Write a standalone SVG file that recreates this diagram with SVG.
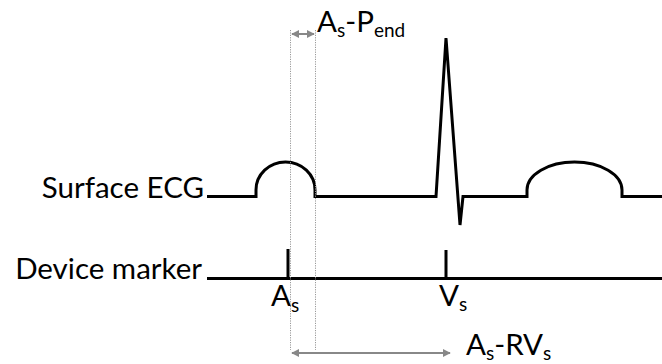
<svg xmlns="http://www.w3.org/2000/svg" width="662" height="364" viewBox="0 0 662 364">
<style>
.trace{fill:none;stroke:#000;stroke-width:3;stroke-linejoin:miter}
.lbl{font-family:"Lato","Open Sans",sans-serif;font-size:29.5px;fill:#000}
.sub{font-size:19px}
.guide{stroke:#999;stroke-width:1;stroke-dasharray:1.2,1.2;fill:none}
.dim{stroke:#888;stroke-width:2;fill:none}
</style>
<defs>
<marker id="ah" viewBox="0 0 10 10" refX="9" refY="5" markerWidth="4" markerHeight="4" orient="auto-start-reverse">
<path d="M0,0 L10,5 L0,10 z" fill="#888"/>
</marker>
</defs>
<g id="ecg">
<path class="trace" d="M207,196.5 H256 V190 A29.5,28 0 0 1 315,190 V196.5 H436 L446,38 L460,225 L463,196.5 H527 V190 A47.5,28 0 0 1 622,190 V196.5 H662"/>
<text class="lbl" x="204" y="198" text-anchor="end">Surface ECG</text>
</g>
<g id="marker">
<path class="trace" d="M207,278.5 H662 M288,249 V278.5 M446,250 V278.5"/>
<text class="lbl" x="202" y="279" text-anchor="end">Device marker</text>
<text class="lbl" x="271" y="306">A<tspan class="sub" dy="6">s</tspan></text>
<text class="lbl" x="439" y="306">V<tspan class="sub" dy="5">s</tspan></text>
</g>
<g id="connectors">
<line class="guide" x1="290.5" y1="30" x2="290.5" y2="350"/>
<line class="guide" x1="315.5" y1="30" x2="315.5" y2="350"/>
<line class="dim" x1="292" y1="34" x2="314" y2="34" marker-start="url(#ah)" marker-end="url(#ah)"/>
<line class="dim" x1="292" y1="353" x2="450" y2="353" marker-start="url(#ah)" marker-end="url(#ah)"/>
</g>
<g id="labels">
<text class="lbl" x="317" y="32">A<tspan class="sub" dy="5">s</tspan><tspan dy="-5">-P</tspan><tspan class="sub" dy="5">end</tspan></text>
<text class="lbl" x="466" y="355">A<tspan class="sub" dy="5">s</tspan><tspan dy="-5">-RV</tspan><tspan class="sub" dy="5">s</tspan></text>
</g>
</svg>
